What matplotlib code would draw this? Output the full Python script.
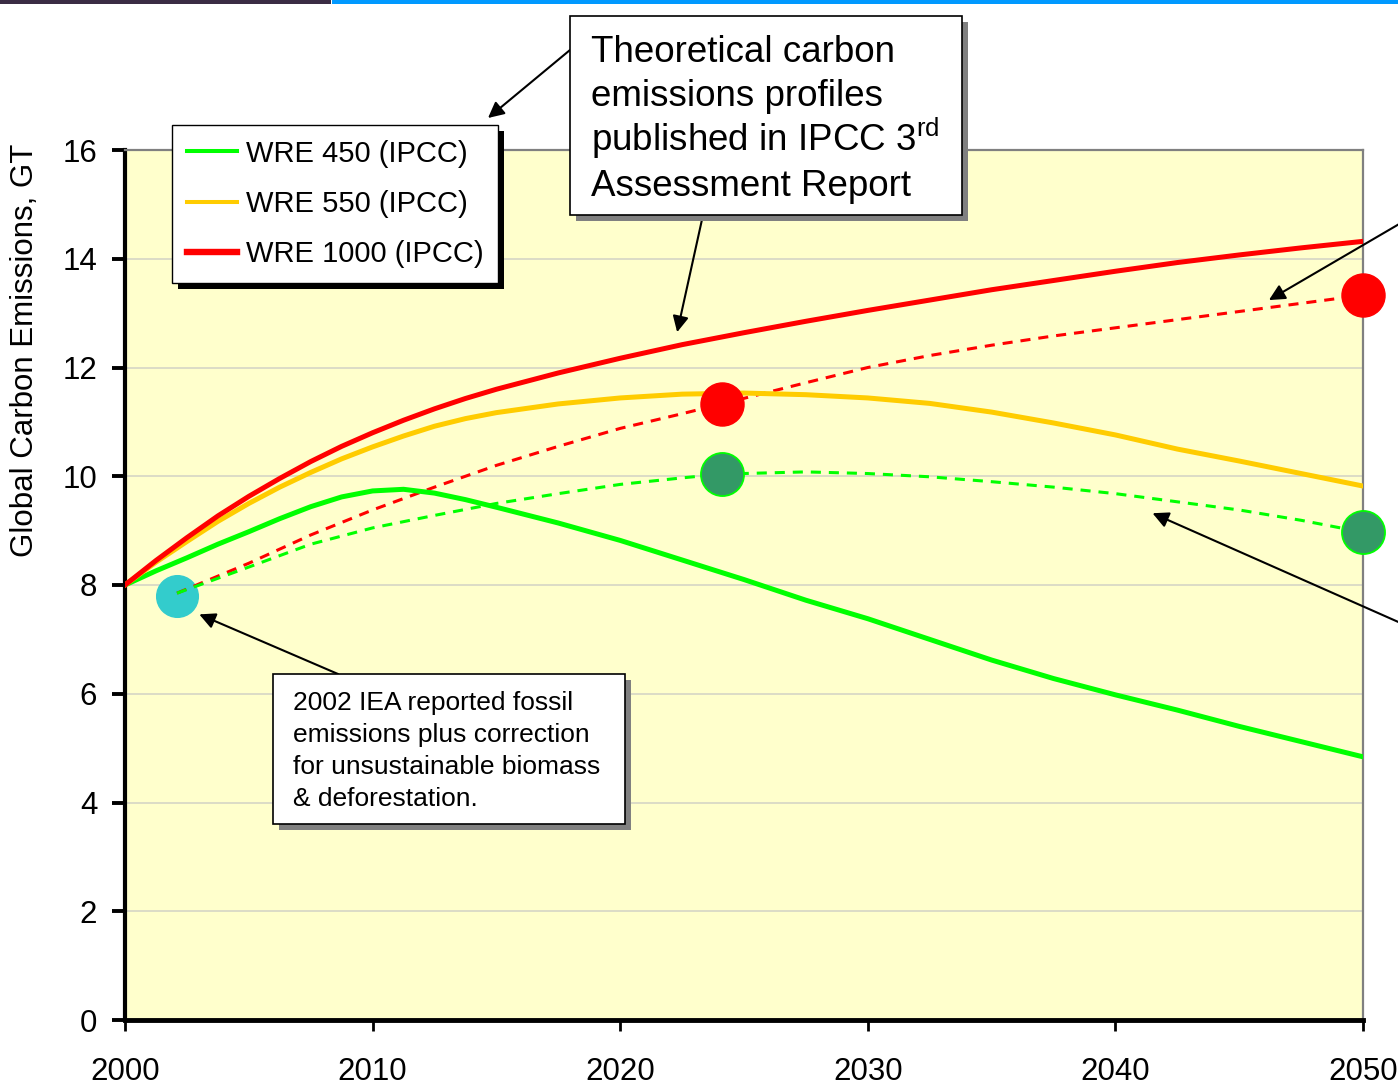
import matplotlib
matplotlib.use("Agg")
import matplotlib.pyplot as plt
from matplotlib.patches import Rectangle

plt.rcParams['font.family'] = ['Liberation Sans', 'DejaVu Sans']
plt.rcParams['mathtext.fontset'] = 'custom'
plt.rcParams['mathtext.rm'] = 'Liberation Sans'

# WRE scenario curves (IPCC TAR)
years = [2000, 2001.25, 2002.5, 2003.75, 2005, 2006.25, 2007.5, 2008.75, 2010, 2011.25,
         2012.5, 2013.75, 2015, 2017.5, 2020, 2022.5, 2025, 2027.5, 2030, 2032.5,
         2035, 2037.5, 2040, 2042.5, 2045, 2047.5, 2050]
wre1000 = [8.0, 8.45, 8.87, 9.27, 9.63, 9.96, 10.27, 10.55, 10.8, 11.03,
           11.24, 11.43, 11.6, 11.9, 12.17, 12.42, 12.64, 12.85, 13.05, 13.24,
           13.43, 13.6, 13.77, 13.93, 14.07, 14.2, 14.32]
wre550 = [8.0, 8.42, 8.8, 9.17, 9.5, 9.8, 10.07, 10.32, 10.54, 10.74,
          10.92, 11.06, 11.17, 11.33, 11.44, 11.51, 11.53, 11.5, 11.44, 11.34,
          11.18, 10.98, 10.76, 10.5, 10.28, 10.05, 9.82]
wre450 = [8.0, 8.26, 8.5, 8.75, 8.98, 9.22, 9.44, 9.62, 9.73, 9.76,
          9.69, 9.57, 9.43, 9.14, 8.82, 8.46, 8.1, 7.72, 7.38, 7.0,
          6.62, 6.28, 5.98, 5.7, 5.4, 5.12, 4.84]

# dashed projections starting from the 2002 point
dash_years = [2002.1, 2005, 2007.5, 2010, 2012.5, 2015, 2017.5, 2020, 2022.5, 2024.1,
              2027.5, 2030, 2032.5, 2035, 2037.5, 2040, 2042.5, 2045, 2047.5, 2050]
red_dash = [7.85, 8.4, 8.92, 9.38, 9.8, 10.2, 10.55, 10.88, 11.15, 11.33,
            11.72, 12.0, 12.22, 12.41, 12.58, 12.73, 12.88, 13.03, 13.18, 13.33]
green_dash = [7.85, 8.33, 8.75, 9.05, 9.28, 9.5, 9.68, 9.85, 9.97, 10.04,
              10.08, 10.05, 9.99, 9.9, 9.8, 9.68, 9.53, 9.38, 9.19, 8.97]

# marker points
iea_2002 = (2002.1, 7.8)
red_pts_x = [2024.1, 2050]
red_pts_y = [11.33, 13.33]
green_pts_x = [2024.1, 2050]
green_pts_y = [10.04, 8.97]

W, H = 1398, 1091


def fx(x):
    return x / W


def fy(y):
    return 1 - y / H


fig = plt.figure(figsize=(W / 100, H / 100), dpi=100)
ax = fig.add_axes([fx(125), fy(1020), (1363 - 125) / W, (1020 - 150) / H])
ax.set_facecolor('#FFFFCC')
ax.set_xlim(2000, 2050)
ax.set_ylim(0, 16)

ax.set_yticks(range(0, 17, 2))
ax.set_xticks(range(2000, 2051, 10))
ax.grid(axis='y', color='#D9D9C6', lw=1.3, zorder=0)
ax.set_axisbelow(True)

ax.tick_params(axis='y', direction='out', length=9.5, width=2.8, pad=10.5,
               labelsize=22.5, right=False)
ax.tick_params(axis='x', direction='out', length=8, width=2, pad=19,
               labelsize=22.5, top=False)
for s in ['top', 'right']:
    ax.spines[s].set_color('#808080')
    ax.spines[s].set_linewidth(1.6)
ax.spines['left'].set_linewidth(3)
ax.spines['bottom'].set_linewidth(3.5)

ax.set_ylabel('Global Carbon Emissions, GT', fontsize=22.5)
ax.yaxis.set_label_coords(-0.069, 0.77)

# dashed projections and points
ax.plot(*iea_2002, 'o', ms=30, color='#33CCCC', mec='#33CCCC', zorder=2)
ax.plot(dash_years, red_dash, color='#FF0000', lw=2.2, dashes=(3.3, 2.6), zorder=3)
ax.plot(dash_years, green_dash, color='#00FF00', lw=2.2, dashes=(3.3, 2.6), zorder=3)

ax.plot(years, wre450, color='#00FF00', lw=3.6, zorder=4)
ax.plot(years, wre550, color='#FFCC00', lw=3.6, zorder=4)
ax.plot(years, wre1000, color='#FF0000', lw=3.6, zorder=4)

ax.plot(red_pts_x, red_pts_y, 'o', ms=31, color='#FF0000', mec='#FF0000',
        zorder=5, clip_on=False)
ax.plot(green_pts_x, green_pts_y, 'o', ms=31, color='#339966', mec='#00FF00',
        mew=1.3, zorder=5, clip_on=False)

# legend with hard black shadow
h1, = ax.plot([], [], color='#00FF00', lw=2.9)
h2, = ax.plot([], [], color='#FFCC00', lw=2.9)
h3, = ax.plot([], [], color='#FF0000', lw=4.6)
leg = ax.legend([h1, h2, h3], ['WRE 450 (IPCC)', 'WRE 550 (IPCC)', 'WRE 1000 (IPCC)'],
                loc='upper left', bbox_to_anchor=(fx(172), fy(125)),
                bbox_transform=fig.transFigure, borderaxespad=0,
                fontsize=21, handlelength=1.72, handletextpad=0.3,
                borderpad=0.5, labelspacing=0.77, fancybox=False,
                framealpha=1, edgecolor='black')
leg.get_frame().set_linewidth(1.0)
leg.set_zorder(10)

# text boxes with shadows
def box(x0, y0, x1, y1, shadow):
    fig.add_artist(Rectangle((fx(x0 + 6), fy(y1 + 6)), (x1 - x0) / W, (y1 - y0) / H,
                             transform=fig.transFigure, facecolor=shadow,
                             edgecolor='none', zorder=4))
    fig.add_artist(Rectangle((fx(x0), fy(y1)), (x1 - x0) / W, (y1 - y0) / H,
                             transform=fig.transFigure, facecolor='white',
                             edgecolor='black', lw=1.2, zorder=5))


box(570, 16, 962, 215, '#808080')
big_lines = ['Theoretical carbon', 'emissions profiles',
             'published in IPCC 3$^{\\mathrm{rd}}$', 'Assessment Report']
for i, t in enumerate(big_lines):
    fig.text(fx(591), fy(62 + 44.5 * i), t, fontsize=26.5, va='baseline',
             ha='left', zorder=6)

box(273, 674, 625, 824, '#808080')
small_lines = ['2002 IEA reported fossil', 'emissions plus correction',
               'for unsustainable biomass', '& deforestation.']
for i, t in enumerate(small_lines):
    fig.text(fx(293), fy(710 + 32 * i), t, fontsize=19, va='baseline',
             ha='left', zorder=6)

arrow = dict(arrowstyle='-|>', color='black', lw=1.5, mutation_scale=24,
             shrinkA=0, shrinkB=0)
# big box -> legend corner
ax.annotate('', xy=(fx(488), fy(118)), xycoords='figure fraction',
            xytext=(fx(570), fy(50)), textcoords='figure fraction',
            arrowprops=arrow, annotation_clip=False)
# big box -> red curve
ax.annotate('', xy=(2022.3, 12.65), xytext=(fx(703), fy(215)),
            textcoords='figure fraction', arrowprops=arrow, annotation_clip=False)
# off-slide callouts on the right
ax.annotate('', xy=(2046.2, 13.24), xytext=(fx(1430), fy(206)),
            textcoords='figure fraction', arrowprops=arrow, annotation_clip=False)
ax.annotate('', xy=(2041.5, 9.32), xytext=(fx(1430), fy(636)),
            textcoords='figure fraction', arrowprops=arrow, annotation_clip=False)
# small box -> 2002 point
ax.annotate('', xy=(2003.0, 7.46), xytext=(fx(338), fy(674)),
            textcoords='figure fraction', arrowprops=arrow, annotation_clip=False)

# slide header strip
fig.add_artist(Rectangle((0, fy(4)), fx(331), 4 / H, transform=fig.transFigure,
                         facecolor='#3A2C44', edgecolor='none'))
fig.add_artist(Rectangle((fx(332), fy(4)), fx(W - 332), 4 / H, transform=fig.transFigure,
                         facecolor='#0099FF', edgecolor='none'))

# draw once so the legend shadow can be placed under the frame
fig.canvas.draw()
bb = leg.get_window_extent()
ax.add_artist(Rectangle((bb.x0 + 6, bb.y0 - 6), bb.width, bb.height, transform=None,
                        facecolor='black', edgecolor='none', zorder=9, clip_on=False))

fig.savefig('out.png', dpi=100)
